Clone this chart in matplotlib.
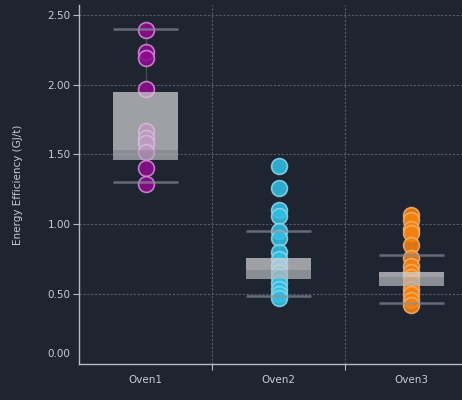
import matplotlib
matplotlib.use("Agg")
import matplotlib.pyplot as plt
from matplotlib.transforms import ScaledTranslation

# Data
ovens = ["Oven1", "Oven2", "Oven3"]
oven1_values = [2.39, 2.23, 2.19, 1.97, 1.67, 1.62, 1.58, 1.52, 1.40, 1.29]
oven2_values = [1.42, 1.26, 1.10, 1.06, 0.95, 0.90, 0.80, 0.75, 0.70,
                0.66, 0.62, 0.58, 0.54, 0.50, 0.47]
oven3_values = [1.07, 1.03, 0.97, 0.94, 0.85, 0.76, 0.70, 0.66, 0.62,
                0.58, 0.54, 0.50, 0.46, 0.42]
# Box statistics: lower whisker, Q1, median, Q3, upper whisker
box_lo = [1.30, 0.49, 0.44]
box_q1 = [1.46, 0.61, 0.56]
box_med = [1.53, 0.67, 0.62]
box_q3 = [1.95, 0.76, 0.66]
box_hi = [2.40, 0.95, 0.78]
y_ticks = [0.0, 0.5, 1.0, 1.5, 2.0, 2.5]

series = [oven1_values, oven2_values, oven3_values]
fill_colors = ["#8c0d8c", "#2fbfe3", "#f5820f"]
edge_colors = ["#d98ad9", "#86d8ee", "#f5ae68"]

BG = "#1f2431"
TXT = "#c9cbd0"
AXIS = "#b8bbc2"
GRID = "#565c69"

fig = plt.figure(figsize=(4.62, 4.0), dpi=100, facecolor=BG)
ax = fig.add_axes([79 / 462, 36 / 400, 399 / 462, 359 / 400])
ax.set_facecolor(BG)

# grid
for y in y_ticks[1:]:
    ax.axhline(y, color=GRID, lw=0.8, ls=(0, (2, 1.5)), zorder=0)
for x in [0.5, 1.5]:
    ax.axvline(x, color=GRID, lw=0.8, ls=(0, (2, 1.5)), zorder=0)

box_w = 0.49
for i, vals in enumerate(series):
    xs = [i] * len(vals)
    ax.scatter(xs, vals, s=130, c=fill_colors[i], edgecolors=edge_colors[i],
               linewidths=1.2, alpha=0.88, zorder=2)
    # whiskers
    ax.plot([i, i], [box_q3[i], box_hi[i]], color="#6f7480", lw=1.0, alpha=0.5, zorder=1)
    ax.plot([i, i], [box_lo[i], box_q1[i]], color="#6f7480", lw=1.0, alpha=0.5, zorder=1)
    for v in (box_lo[i], box_hi[i]):
        ax.plot([i - box_w / 2, i + box_w / 2], [v, v], color="#8d919a",
                lw=1.8, alpha=0.65, zorder=3, solid_capstyle="butt")
    # box: upper and lower halves
    ax.bar(i, box_q3[i] - box_med[i], bottom=box_med[i], width=box_w,
           color="#d0d1d4", alpha=0.72, zorder=3, linewidth=0)
    ax.bar(i, box_med[i] - box_q1[i], bottom=box_q1[i], width=box_w,
           color="#b5b7bb", alpha=0.72, zorder=3, linewidth=0)

ax.set_xlim(-0.5, 2.5)
ax.set_ylim(0, 2.57)
ax.set_yticks(y_ticks)
ax.set_yticklabels([f"{v:.2f}" for v in y_ticks])
ax.set_xticks([0, 1, 2])
ax.set_xticklabels(ovens)
ax.set_xticks([0.5, 1.5], minor=True)

for side in ("top", "right"):
    ax.spines[side].set_visible(False)
for side in ("left", "bottom"):
    ax.spines[side].set_color(AXIS)
    ax.spines[side].set_linewidth(1.0)

ax.tick_params(axis="y", colors=AXIS, labelcolor=TXT, labelsize=7.5, length=4, width=0.8, pad=2)
ax.tick_params(axis="x", which="major", length=0, labelcolor=TXT, labelsize=7.5, pad=8)
ax.tick_params(axis="x", which="minor", length=4, width=0.8, colors=AXIS)

# the zero label sits just above the axis line, without a tick mark
t0 = ax.yaxis.get_major_ticks()[0]
t0.tick1line.set_visible(False)
t0.label1.set_transform(t0.label1.get_transform() +
                        ScaledTranslation(0, 11 / 100, fig.dpi_scale_trans))

ax.set_ylabel("Energy Efficiency (GJ/t)", color=TXT, fontsize=7.5, labelpad=18)

fig.savefig("out.png", dpi=100, facecolor=BG)
